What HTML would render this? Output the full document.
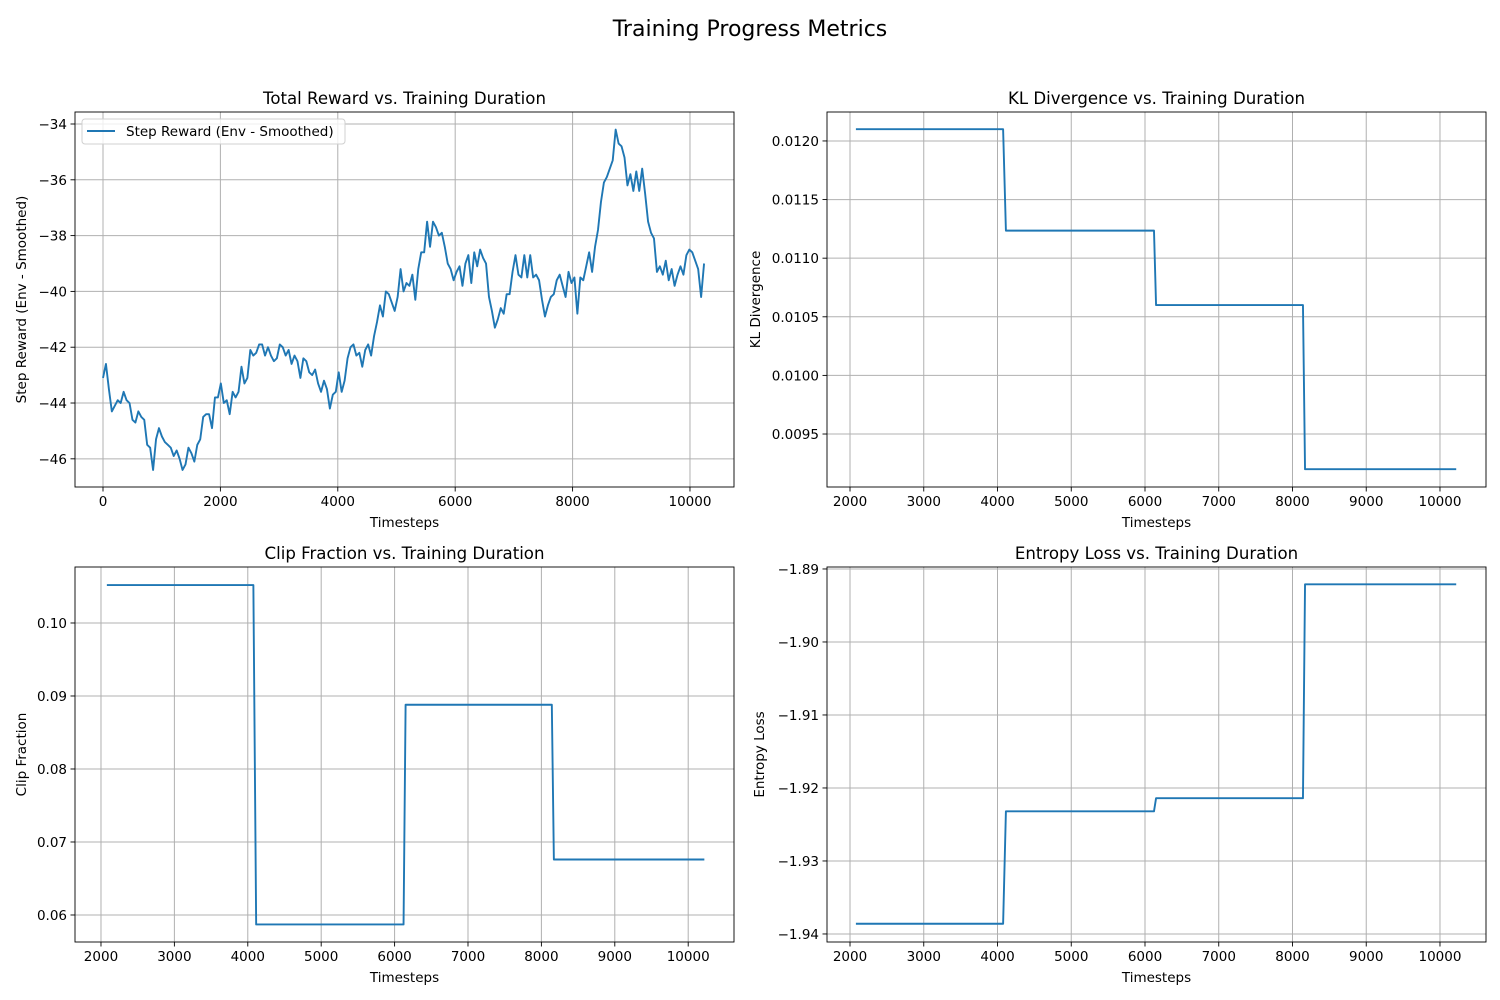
<!DOCTYPE html>
<html><head><meta charset="utf-8"><style>
body{margin:0;background:#fff;}
svg{display:block;font-family:"DejaVu Sans","Liberation Sans",sans-serif;}
</style></head><body>
<svg id="fig" width="1500" height="1000" xmlns="http://www.w3.org/2000/svg">
<rect width="1500" height="1000" fill="#fff"/>
<text x="750" y="36" text-anchor="middle" font-size="22" fill="#000">Training Progress Metrics</text>
</svg>
<script>
const rewardValues=[-43.1,-42.6,-43.5,-44.3,-44.1,-43.9,-44.0,-43.6,-43.9,-44.0,-44.6,-44.7,-44.3,-44.5,-44.6,-45.5,-45.6,-46.4,-45.3,-44.9,-45.2,-45.4,-45.5,-45.6,-45.9,-45.7,-46.0,-46.4,-46.2,-45.6,-45.8,-46.1,-45.5,-45.3,-44.5,-44.4,-44.4,-44.9,-43.8,-43.8,-43.3,-44.0,-43.9,-44.4,-43.6,-43.8,-43.6,-42.7,-43.3,-43.1,-42.1,-42.3,-42.2,-41.9,-41.9,-42.3,-42.0,-42.3,-42.5,-42.4,-41.9,-42.0,-42.3,-42.1,-42.6,-42.3,-42.5,-43.1,-42.4,-42.5,-42.9,-43.0,-42.8,-43.3,-43.6,-43.2,-43.5,-44.2,-43.7,-43.6,-42.9,-43.6,-43.2,-42.4,-42.0,-41.9,-42.3,-42.2,-42.7,-42.1,-41.9,-42.3,-41.6,-41.1,-40.5,-40.9,-40.0,-40.1,-40.4,-40.7,-40.2,-39.2,-40.0,-39.7,-39.8,-39.4,-40.3,-39.2,-38.6,-38.6,-37.5,-38.4,-37.5,-37.7,-38.0,-37.9,-38.4,-39.0,-39.2,-39.6,-39.3,-39.1,-39.8,-39.0,-38.7,-39.7,-38.6,-39.1,-38.5,-38.8,-39.0,-40.2,-40.7,-41.3,-41.0,-40.6,-40.8,-40.1,-40.1,-39.3,-38.7,-39.4,-39.5,-38.7,-39.5,-38.7,-39.5,-39.4,-39.6,-40.3,-40.9,-40.5,-40.2,-40.1,-39.6,-39.4,-39.8,-40.2,-39.3,-39.7,-39.5,-40.8,-39.5,-39.6,-39.1,-38.6,-39.3,-38.4,-37.8,-36.8,-36.1,-35.9,-35.6,-35.3,-34.2,-34.7,-34.8,-35.2,-36.2,-35.8,-36.4,-35.7,-36.4,-35.6,-36.5,-37.5,-37.9,-38.1,-39.3,-39.1,-39.4,-38.9,-39.6,-39.2,-39.8,-39.4,-39.1,-39.4,-38.7,-38.5,-38.6,-38.9,-39.2,-40.2,-39.0];
const rewardEnd=10240;
const stepTimes=[2080,4076,4114,6122,6150,8142,8170,10220];
const klValues=[0.01210,0.01210,0.011235,0.011235,0.01060,0.01060,0.00920,0.00920];
const clipValues=[0.1052,0.1052,0.0587,0.0587,0.0888,0.0888,0.0676,0.0676];
const entropyValues=[-1.9386,-1.9386,-1.9232,-1.9232,-1.9214,-1.9214,-1.8921,-1.8921];
const rewardTicksX=[0,2000,4000,6000,8000,10000];
const rewardTicksY=[-46,-44,-42,-40,-38,-36,-34];
const stepTicksX=[2000,3000,4000,5000,6000,7000,8000,9000,10000];
const klTicksY=[0.0095,0.0100,0.0105,0.0110,0.0115,0.0120];
const clipTicksY=[0.06,0.07,0.08,0.09,0.10];
const entTicksY=[-1.94,-1.93,-1.92,-1.91,-1.90,-1.89];

const NS="http://www.w3.org/2000/svg";
const fig=document.getElementById('fig');
function mk(tag,attrs,parent){const e=document.createElementNS(NS,tag);for(const k in attrs)e.setAttribute(k,attrs[k]);(parent||fig).appendChild(e);return e;}
function fmt(v,d){const s=Math.abs(v).toFixed(d);return (v<0?'\u2212':'')+s;}

function panel(o){
  const g=mk('g',{});
  
  
  const L=o.x0,R=o.x1,T=o.y0,B=o.y1;
  const sx=v=>L+(v-o.xmin)/(o.xmax-o.xmin)*(R-L);
  const sy=v=>B-(v-o.ymin)/(o.ymax-o.ymin)*(B-T);
  o.xt.forEach(t=>{const X=sx(t);
    const gl=mk('line',{x1:X,x2:X,y1:T,y2:B,stroke:'#b0b0b0','stroke-width':1},g);
    
    mk('line',{x1:X,x2:X,y1:B,y2:B+4.5,stroke:'#000','stroke-width':0.9},g);
    const tx=mk('text',{x:X,y:B+19,'text-anchor':'middle','font-size':13.5},g);tx.textContent=fmt(t,0);
    
  });
  o.yt.forEach(t=>{const Y=sy(t);
    const gl=mk('line',{x1:L,x2:R,y1:Y,y2:Y,stroke:'#b0b0b0','stroke-width':1},g);
    
    mk('line',{x1:L-4.5,x2:L,y1:Y,y2:Y,stroke:'#000','stroke-width':0.9},g);
    const tx=mk('text',{x:L-8,y:Y+5,'text-anchor':'end','font-size':13.5},g);tx.textContent=fmt(t,o.yd);
    
  });
  const pts=o.xs.map((x,i)=>sx(x).toFixed(2)+','+sy(o.ys[i]).toFixed(2)).join(' ');
  const pl=mk('polyline',{points:pts,fill:'none',stroke:'#1f77b4','stroke-width':1.9,'stroke-linejoin':'round'},g);
  
  const fr=mk('rect',{x:L,y:T,width:R-L,height:B-T,fill:'none',stroke:'#000','stroke-width':0.9},g);
  
  const ti=mk('text',{x:(L+R)/2,y:T-8,'text-anchor':'middle','font-size':16.6},g);ti.textContent=o.title;
  
  const xl=mk('text',{x:(L+R)/2,y:B+40,'text-anchor':'middle','font-size':13.5},g);xl.textContent='Timesteps';
  
  const yl=mk('text',{x:0,y:0,'text-anchor':'middle','font-size':13.5,transform:`translate(${o.ylx},${(T+B)/2}) rotate(-90)`},g);yl.textContent=o.ylabel;
  
  return g;
}
const rewardTimes=rewardValues.map((_,i)=>i*rewardEnd/(rewardValues.length-1));
const g1=panel({name:'reward-panel',x0:75,x1:734,y0:112,y1:487,xmin:-477,xmax:10750,ymin:-47.01,ymax:-33.57,xt:rewardTicksX,yt:rewardTicksY,yd:0,xs:rewardTimes,ys:rewardValues,title:'Total Reward vs. Training Duration',ylabel:'Step Reward (Env - Smoothed)',ylx:26});
const lg=mk('g',{},g1);


mk('rect',{x:82,y:119,width:263,height:25,rx:3,fill:'#fff','fill-opacity':0.8,stroke:'#d0d0d0','stroke-width':1},lg);
mk('line',{x1:87,x2:115,y1:131,y2:131,stroke:'#1f77b4','stroke-width':1.9},lg);
const lt=mk('text',{x:126,y:136,'font-size':13.5},lg);lt.textContent='Step Reward (Env - Smoothed)';


panel({name:'kl-panel',x0:827,x1:1486,y0:112,y1:487,xmin:1688,xmax:10624,ymin:0.009048,ymax:0.012247,xt:stepTicksX,yt:klTicksY,yd:4,xs:stepTimes,ys:klValues,title:'KL Divergence vs. Training Duration',ylabel:'KL Divergence',ylx:760});
panel({name:'clip-panel',x0:75,x1:734,y0:567,y1:942,xmin:1646,xmax:10624,ymin:0.0563,ymax:0.10767,xt:stepTicksX,yt:clipTicksY,yd:2,xs:stepTimes,ys:clipValues,title:'Clip Fraction vs. Training Duration',ylabel:'Clip Fraction',ylx:26});
panel({name:'entropy-panel',x0:827,x1:1486,y0:567,y1:942,xmin:1688,xmax:10624,ymin:-1.9411,ymax:-1.88973,xt:stepTicksX,yt:entTicksY,yd:2,xs:stepTimes,ys:entropyValues,title:'Entropy Loss vs. Training Duration',ylabel:'Entropy Loss',ylx:764});
</script>
</body></html>
